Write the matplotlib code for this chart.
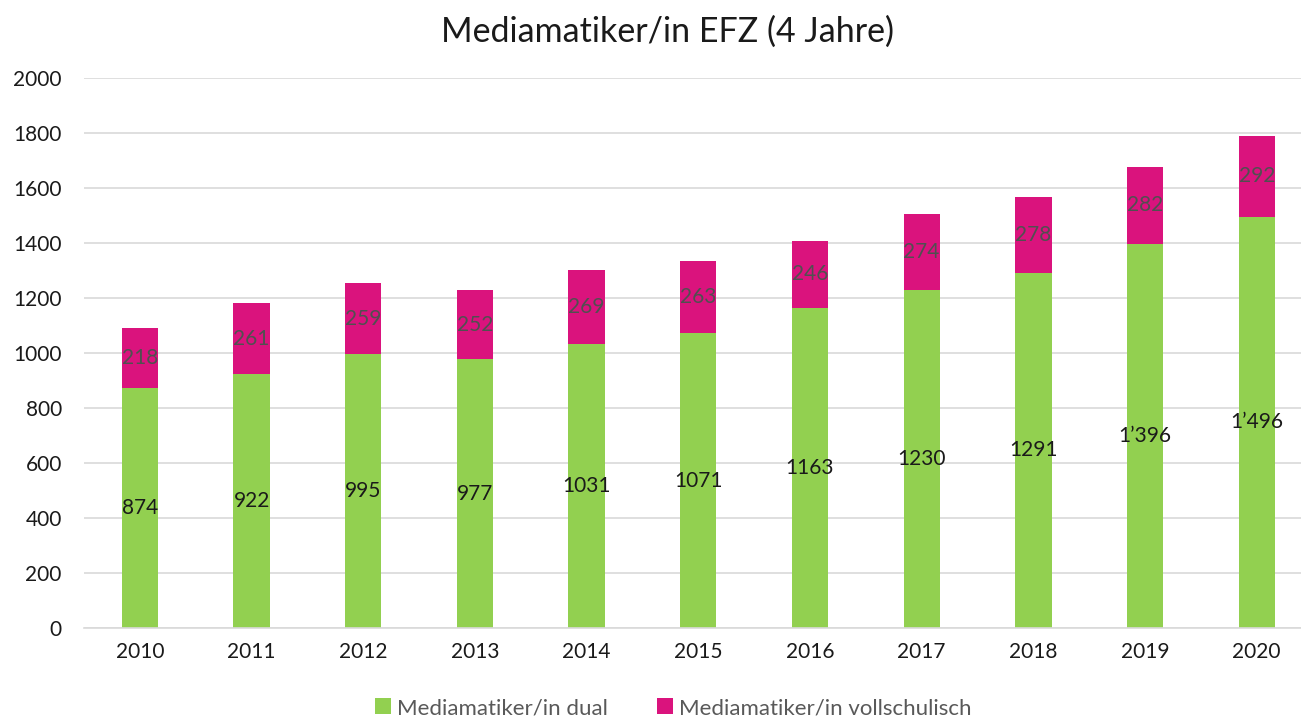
import matplotlib.pyplot as plt
import numpy as np

plt.rcParams['font.family'] = ['Lato', 'DejaVu Sans']

years = ['2010', '2011', '2012', '2013', '2014', '2015', '2016', '2017', '2018', '2019', '2020']
dual = [874, 922, 995, 977, 1031, 1071, 1163, 1230, 1291, 1396, 1496]
vollschulisch = [218, 261, 259, 252, 269, 263, 246, 274, 278, 282, 292]
dual_labels = ['874', '922', '995', '977', '1031', '1071', '1163', '1230', '1291', '1\u2019396', '1\u2019496']

green = '#92D050'
magenta = '#DA137D'

fig = plt.figure(figsize=(13.01, 7.24), dpi=100)
ax = fig.add_axes([0.0646, 0.1326, 0.94, 0.7597])

x = np.arange(len(years))
w = 0.325
ax.bar(x, dual, w, color=green, label='Mediamatiker/in dual', zorder=2)
ax.bar(x, vollschulisch, w, bottom=dual, color=magenta,
       label='Mediamatiker/in vollschulisch', zorder=2)

for i in range(len(years)):
    ax.text(x[i], dual[i] / 2, dual_labels[i], ha='center', va='center',
            fontsize=15, color='#1a1a1a', zorder=3)
    ax.text(x[i], dual[i] + vollschulisch[i] / 2, str(vollschulisch[i]),
            ha='center', va='center', fontsize=15, color='#505050', zorder=3)

ax.set_ylim(0, 2000)
ax.set_yticks(range(0, 2001, 200))
ax.set_xlim(-0.5, 10.45)
ax.set_xticks(x)
ax.set_xticklabels(years)
ax.grid(axis='y', color='#D9D9D9', linewidth=1.2, zorder=0)
for s in ['top', 'right', 'left']:
    ax.spines[s].set_visible(False)
ax.spines['bottom'].set_color('#D9D9D9')
ax.spines['bottom'].set_linewidth(1.2)
ax.tick_params(axis='both', length=0, labelsize=15, colors='#1a1a1a')
ax.tick_params(axis='y', pad=16)
ax.tick_params(axis='x', pad=10)

fig.suptitle('Mediamatiker/in EFZ (4 Jahre)', fontsize=24.5, x=0.513, y=0.978, color='#1a1a1a')

ax.legend(loc='lower center', bbox_to_anchor=(0.482, -0.2), ncol=2, frameon=False,
          fontsize=16, handlelength=0.7, handleheight=0.7, handletextpad=0.3,
          columnspacing=2.2, labelcolor='#595959')

fig.savefig('out.png', dpi=100)
